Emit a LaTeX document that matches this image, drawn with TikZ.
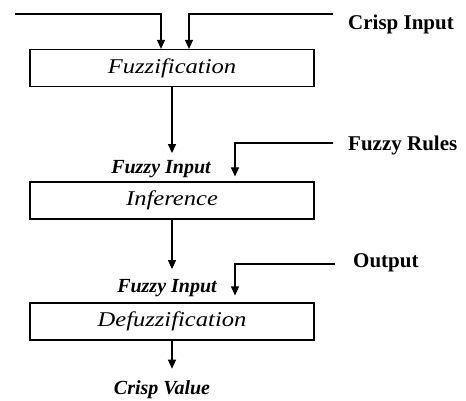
\documentclass[tikz,border=0pt]{standalone}
\usepackage{fontspec}
\setmainfont{Liberation Serif}
\newfontfamily\widefont[FakeStretch=1.17]{Liberation Serif}
\usetikzlibrary{arrows.meta,positioning}
\tikzset{
 block/.style
  = {rectangle, draw, line width=1.2pt, minimum width=284pt, minimum height=37pt,
     inner sep=0pt, font=\widefont\fontsize{21}{25}\selectfont\itshape},
 tag/.style
  = {font=\fontsize{21}{25}\selectfont\bfseries, anchor=west, inner sep=0pt},
 mid/.style
  = {font=\fontsize{20}{24}\selectfont\bfseries\itshape, inner sep=0pt},
 flow/.style
  = {draw, line width=1.2pt, -{Triangle[width=8pt,length=9pt]}},
}
\begin{document}
\begin{tikzpicture}[x=1pt,y=-1pt]
\useasboundingbox (0,0) rectangle (466,401);

% Processing blocks
\node[block] (fuzz) at (172,68) {Fuzzification};
\node[block] (infer) at (172,200.5) {Inference};
\node[block] (defuzz) at (172,321.5) {Defuzzification};

% Side labels
\node[tag] (crisp) at (348,24) {Crisp Input};
\node[tag] (rules) at (348,145) {Fuzzy Rules};
\node[tag] (output) at (353,263) {Output};

% Labels between the blocks
\node[mid] (fin1) at (161,169) {Fuzzy Input};
\node[mid] (fin2) at (167,288) {Fuzzy Input};
\node[mid] (cval) at (162,390) {Crisp Value};

% Free ends of the side lines
\coordinate (inA) at (15,14);
\coordinate (inB) at (333,14);
\coordinate (inR) at (333,143);
\coordinate (inO) at (335,264);

% Connectors
\draw[flow] (inA) -| ([xshift=-11pt]fuzz.north);
\draw[flow] (inB) -| ([xshift=17pt]fuzz.north);
\draw[flow, shorten >=7pt] (fuzz.south) -- (fuzz.south |- fin1.north);
\draw[flow] (inR) -| ([xshift=63pt,yshift=5pt]infer.north);
\draw[flow, shorten >=10pt] (infer.south) -- (infer.south |- fin2.north);
\draw[flow] (inO) -| ([xshift=63pt,yshift=7pt]defuzz.north);
\draw[flow, shorten >=12pt] (defuzz.south) -- (defuzz.south |- cval.north);

\end{tikzpicture}
\end{document}
